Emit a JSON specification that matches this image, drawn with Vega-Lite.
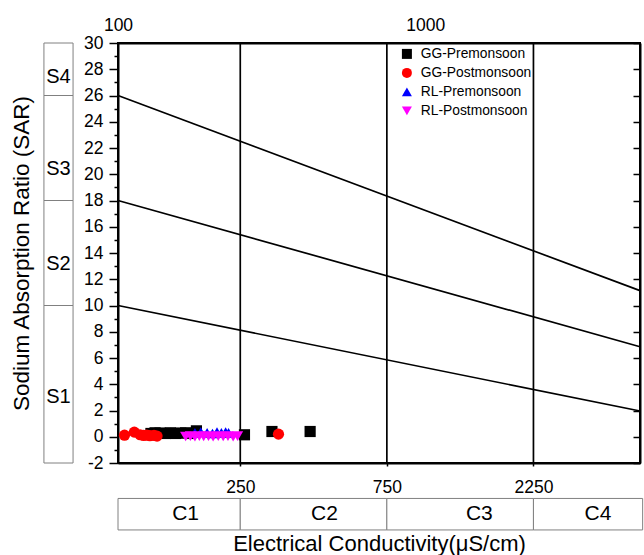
{
  "$schema": "https://vega.github.io/schema/vega-lite/v6.json",
  "width": 522,
  "height": 420,
  "autosize": {"type": "none"},
  "padding": {"left": 118, "top": 43, "right": 4, "bottom": 92},
  "config": {
    "font": "Liberation Sans",
    "view": {"stroke": "black", "strokeWidth": 2},
    "axis": {
      "grid": false, "domainColor": "black", "domainWidth": 2, "tickColor": "black", "tickWidth": 1.5,
      "labelColor": "black", "labelFont": "Liberation Sans", "labelFontSize": 17.5, "labelOverlap": false, "labelFlush": false,
      "titleColor": "black", "titleFont": "Liberation Sans", "titleFontSize": 22, "titleFontWeight": "normal"
    },
    "legend": {
      "orient": "none", "legendX": 282, "legendY": 4, "labelFont": "Liberation Sans", "labelFontSize": 13.8,
      "labelColor": "black", "symbolSize": 100, "rowPadding": 4, "labelOffset": 7, "symbolStrokeWidth": 0, "padding": 0
    }
  },
  "resolve": {"axis": {"x": "independent", "y": "independent"}},
  "layer": [
    {
      "data": {"values": [
        {"band": "S1", "sar_lo": -2, "sar_hi": 10, "sar_lab": 3.0},
        {"band": "S2", "sar_lo": 10, "sar_hi": 18, "sar_lab": 13.2},
        {"band": "S3", "sar_lo": 18, "sar_hi": 26, "sar_lab": 20.4},
        {"band": "S4", "sar_lo": 26, "sar_hi": 30, "sar_lab": 27.4}
      ]},
      "layer": [
        {
          "mark": {"type": "rect", "fill": "white", "stroke": "#808080", "strokeWidth": 1, "clip": false},
          "encoding": {
            "x": {"datum": 57.4, "type": "quantitative", "scale": {"type": "log", "domain": [100, 5000], "nice": false}, "axis": null},
            "x2": {"datum": 71.4},
            "y": {"field": "sar_lo", "type": "quantitative", "scale": {"domain": [-2, 30], "nice": false, "zero": false}, "axis": null},
            "y2": {"field": "sar_hi"}
          }
        },
        {
          "mark": {"type": "text", "fontSize": 20, "font": "Liberation Sans", "color": "black", "baseline": "middle", "align": "center", "clip": false},
          "encoding": {
            "x": {"datum": 64.0, "type": "quantitative", "scale": {"type": "log", "domain": [100, 5000], "nice": false}, "axis": null},
            "y": {"field": "sar_lab", "type": "quantitative", "scale": {"domain": [-2, 30], "nice": false, "zero": false}, "axis": null},
            "text": {"field": "band"}
          }
        }
      ]
    },
    {
      "data": {"values": [
        {"band": "C1", "ec_lo": 100, "ec_hi": 250, "ec_lab": 166},
        {"band": "C2", "ec_lo": 250, "ec_hi": 750, "ec_lab": 470},
        {"band": "C3", "ec_lo": 750, "ec_hi": 2250, "ec_lab": 1500},
        {"band": "C4", "ec_lo": 2250, "ec_hi": 5100, "ec_lab": 3650}
      ]},
      "layer": [
        {
          "mark": {"type": "rect", "fill": "white", "stroke": "#808080", "strokeWidth": 1, "clip": false},
          "encoding": {
            "x": {"field": "ec_lo", "type": "quantitative", "scale": {"type": "log", "domain": [100, 5000], "nice": false}, "axis": null},
            "x2": {"field": "ec_hi"},
            "y": {"datum": -4.7, "type": "quantitative", "scale": {"domain": [-2, 30], "nice": false, "zero": false}, "axis": null},
            "y2": {"datum": -7.1}
          }
        },
        {
          "mark": {"type": "text", "fontSize": 21, "font": "Liberation Sans", "color": "black", "baseline": "middle", "align": "center", "clip": false},
          "encoding": {
            "x": {"field": "ec_lab", "type": "quantitative", "scale": {"type": "log", "domain": [100, 5000], "nice": false}, "axis": null},
            "y": {"datum": -5.9, "type": "quantitative", "scale": {"domain": [-2, 30], "nice": false, "zero": false}, "axis": null},
            "text": {"field": "band"}
          }
        }
      ]
    },
    {
      "data": {"values": [{"ec": 250}, {"ec": 750}, {"ec": 2250}]},
      "mark": {"type": "rule", "color": "black", "strokeWidth": 1.7},
      "encoding": {
        "x": {"field": "ec", "type": "quantitative", "scale": {"type": "log", "domain": [100, 5000], "nice": false},
          "axis": {"orient": "bottom", "values": [250, 750, 2250], "labelExpr": "'' + datum.value", "tickSize": 3, "labelPadding": 12,
            "title": "Electrical Conductivity(μS/cm)", "titlePadding": 38}}
      }
    },
    {
      "data": {"values": [
        {"line": "a", "ec": 100, "sar": 10}, {"line": "a", "ec": 5000, "sar": 1.96},
        {"line": "b", "ec": 100, "sar": 18}, {"line": "b", "ec": 5000, "sar": 6.86},
        {"line": "c", "ec": 100, "sar": 26}, {"line": "c", "ec": 5000, "sar": 11.13}
      ]},
      "mark": {"type": "line", "color": "black", "strokeWidth": 1.7},
      "encoding": {
        "x": {"field": "ec", "type": "quantitative", "scale": {"type": "log", "domain": [100, 5000], "nice": false},
          "axis": {"orient": "top", "values": [100, 1000], "labelExpr": "'' + datum.value", "tickSize": 0, "labelPadding": 9, "title": null}},
        "y": {"field": "sar", "type": "quantitative", "scale": {"domain": [-2, 30], "nice": false, "zero": false},
          "axis": {"orient": "left", "values": [-2,-1,0,1,2,3,4,5,6,7,8,9,10,11,12,13,14,15,16,17,18,19,20,21,22,23,24,25,26,27,28,29,30],
            "labelExpr": "datum.value % 2 === 0 ? '' + datum.value : ''",
            "tickSize": {"condition": {"test": "datum.value % 2 !== 0", "value": 4}, "value": 9},
            "labelPadding": 6, "title": "Sodium Absorption Ratio (SAR)", "titleFontSize": 22.5, "titlePadding": 50}},
        "detail": {"field": "line"}
      }
    },
    {
      "data": {"values": [
        {"series": "GG-Premonsoon", "ec": 128, "sar": 0.25},
        {"series": "GG-Premonsoon", "ec": 132, "sar": 0.3},
        {"series": "GG-Premonsoon", "ec": 137, "sar": 0.28},
        {"series": "GG-Premonsoon", "ec": 143, "sar": 0.25},
        {"series": "GG-Premonsoon", "ec": 148, "sar": 0.3},
        {"series": "GG-Premonsoon", "ec": 154, "sar": 0.25},
        {"series": "GG-Premonsoon", "ec": 160, "sar": 0.28},
        {"series": "GG-Premonsoon", "ec": 166, "sar": 0.3},
        {"series": "GG-Premonsoon", "ec": 172, "sar": 0.25},
        {"series": "GG-Premonsoon", "ec": 180, "sar": 0.45},
        {"series": "GG-Premonsoon", "ec": 258, "sar": 0.15},
        {"series": "GG-Premonsoon", "ec": 317, "sar": 0.4},
        {"series": "GG-Premonsoon", "ec": 422, "sar": 0.4},
        {"series": "GG-Postmonsoon", "ec": 105, "sar": 0.12},
        {"series": "GG-Postmonsoon", "ec": 113, "sar": 0.35},
        {"series": "GG-Postmonsoon", "ec": 118, "sar": 0.15},
        {"series": "GG-Postmonsoon", "ec": 121, "sar": 0.1},
        {"series": "GG-Postmonsoon", "ec": 124, "sar": 0.12},
        {"series": "GG-Postmonsoon", "ec": 127, "sar": 0.08},
        {"series": "GG-Postmonsoon", "ec": 131, "sar": 0.1},
        {"series": "GG-Postmonsoon", "ec": 134, "sar": 0.05},
        {"series": "GG-Postmonsoon", "ec": 333, "sar": 0.2},
        {"series": "RL-Premonsoon", "ec": 178, "sar": 0.3},
        {"series": "RL-Premonsoon", "ec": 186, "sar": 0.35},
        {"series": "RL-Premonsoon", "ec": 195, "sar": 0.3},
        {"series": "RL-Premonsoon", "ec": 203, "sar": 0.25},
        {"series": "RL-Premonsoon", "ec": 210, "sar": 0.35},
        {"series": "RL-Premonsoon", "ec": 217, "sar": 0.3},
        {"series": "RL-Premonsoon", "ec": 224, "sar": 0.35},
        {"series": "RL-Premonsoon", "ec": 229, "sar": 0.3},
        {"series": "RL-Postmonsoon", "ec": 166, "sar": 0.02},
        {"series": "RL-Postmonsoon", "ec": 172, "sar": 0.05},
        {"series": "RL-Postmonsoon", "ec": 178, "sar": 0.0},
        {"series": "RL-Postmonsoon", "ec": 184, "sar": 0.05},
        {"series": "RL-Postmonsoon", "ec": 190, "sar": 0.02},
        {"series": "RL-Postmonsoon", "ec": 197, "sar": 0.05},
        {"series": "RL-Postmonsoon", "ec": 204, "sar": 0.0},
        {"series": "RL-Postmonsoon", "ec": 212, "sar": 0.05},
        {"series": "RL-Postmonsoon", "ec": 220, "sar": 0.02},
        {"series": "RL-Postmonsoon", "ec": 228, "sar": 0.05},
        {"series": "RL-Postmonsoon", "ec": 237, "sar": 0.0},
        {"series": "RL-Postmonsoon", "ec": 245, "sar": 0.05}
      ]},
      "mark": {"type": "point", "filled": true, "opacity": 1, "size": 125},
      "encoding": {
        "x": {"field": "ec", "type": "quantitative", "scale": {"type": "log", "domain": [100, 5000], "nice": false}, "axis": null},
        "y": {"field": "sar", "type": "quantitative", "scale": {"domain": [-2, 30], "nice": false, "zero": false},
          "axis": {"orient": "right", "values": [-2,0,2,4,6,8,10,12,14,16,18,20,22,24,26,28,30], "labels": false, "tickSize": -7, "title": null}},
        "color": {"field": "series", "type": "nominal",
          "scale": {"domain": ["GG-Premonsoon", "GG-Postmonsoon", "RL-Premonsoon", "RL-Postmonsoon"], "range": ["#000000", "#ff0000", "#0000ff", "#ff00ff"]},
          "legend": {"title": null}},
        "shape": {"field": "series", "type": "nominal",
          "scale": {"domain": ["GG-Premonsoon", "GG-Postmonsoon", "RL-Premonsoon", "RL-Postmonsoon"], "range": ["square", "circle", "triangle-up", "triangle-down"]},
          "legend": {"title": null}}
      }
    }
  ]
}
